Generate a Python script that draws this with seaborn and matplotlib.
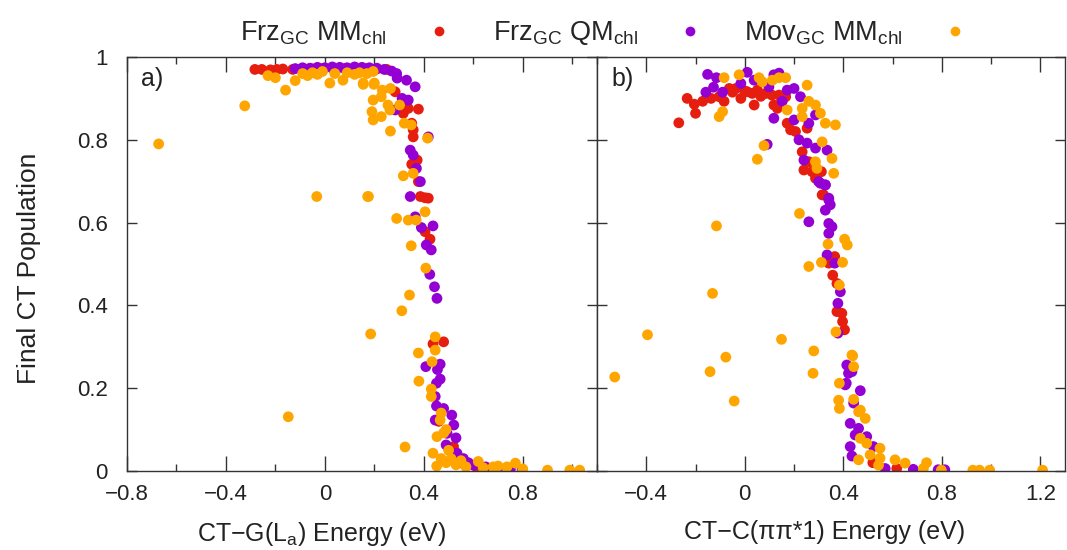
import numpy as np
import pandas as pd
import matplotlib
matplotlib.use("Agg")
import matplotlib.pyplot as plt
from matplotlib.ticker import MultipleLocator, FuncFormatter
from matplotlib.lines import Line2D
import seaborn as sns

# ---------------- data ----------------
series_names = ["Frz$_\\mathrm{GC}$ MM$_\\mathrm{chl}$",
                "Frz$_\\mathrm{GC}$ QM$_\\mathrm{chl}$",
                "Mov$_\\mathrm{GC}$ MM$_\\mathrm{chl}$"]
series_colors = ["#e51e10", "#9400d3", "#ffa500"]

# Panel a) : CT-G(La) energy
a_red_x = [-0.283, -0.255, -0.22, -0.194, -0.17, -0.13, -0.093, -0.05, -0.01, 0.03, 0.08, 0.12, 0.17, 0.21, 0.25,
           0.284, 0.317, 0.337, 0.317, 0.378, 0.351, 0.357, 0.357, 0.373, 0.351, 0.378, 0.386, 0.405, 0.418,
           0.405, 0.425, 0.48, 0.437, 0.52, 0.46, 0.55, 0.62]
a_red_y = [0.970, 0.970, 0.969, 0.970, 0.971, 0.970, 0.972, 0.971, 0.972, 0.973, 0.972, 0.973, 0.972, 0.971, 0.970,
           0.916, 0.892, 0.876, 0.864, 0.874, 0.840, 0.824, 0.807, 0.751, 0.741, 0.699, 0.663, 0.660, 0.659,
           0.578, 0.560, 0.312, 0.307, 0.059, 0.120, 0.020, 0.008]

a_pur_x = [-0.12, -0.09, -0.06, -0.03, 0.0, 0.03, 0.06, 0.09, 0.12, 0.15, 0.18, 0.21, 0.24, 0.27, 0.29,
           0.33, 0.365, 0.292, 0.312, 0.337, 0.284, 0.345, 0.357, 0.37, 0.386, 0.345, 0.365, 0.39, 0.437,
           0.41, 0.43, 0.418, 0.424, 0.443, 0.453, 0.408, 0.466, 0.455, 0.466, 0.451, 0.446, 0.451, 0.48,
           0.513, 0.446, 0.521, 0.494, 0.53, 0.49, 0.534, 0.56, 0.58, 0.60, 0.65, 0.70, 0.75, 0.797]
a_pur_y = [0.972, 0.974, 0.973, 0.975, 0.974, 0.976, 0.975, 0.974, 0.976, 0.975, 0.974, 0.973, 0.970, 0.966, 0.960,
           0.944, 0.928, 0.949, 0.900, 0.896, 0.872, 0.775, 0.763, 0.731, 0.699, 0.663, 0.614, 0.588, 0.592,
           0.546, 0.534, 0.807, 0.475, 0.445, 0.417, 0.252, 0.258, 0.245, 0.222, 0.212, 0.180, 0.157, 0.151,
           0.135, 0.123, 0.111, 0.091, 0.080, 0.063, 0.043, 0.030, 0.020, 0.014, 0.010, 0.008, 0.005, 0.003]

a_org_x = [-0.672, -0.324, -0.159, -0.148, -0.033, 0.176, 0.185,
           -0.23, -0.2, -0.12, -0.09, -0.07, -0.05, -0.03, -0.01, 0.02, 0.04, 0.073, 0.09, 0.12, 0.14,
           0.155, 0.17, 0.195, 0.2, 0.155, 0.198,
           0.232, 0.265, 0.195, 0.228, 0.255, 0.302, 0.19, 0.195, 0.228, 0.263, 0.321, 0.349, 0.265, 0.415,
           0.317, 0.357, 0.173, 0.29, 0.337, 0.369, 0.405, 0.349, 0.408, 0.342, 0.311,
           0.446, 0.446, 0.378, 0.433, 0.38, 0.43, 0.43, 0.466, 0.48, 0.453, 0.49, 0.47, 0.50, 0.324, 0.437,
           0.452, 0.47, 0.49, 0.51, 0.53, 0.55, 0.57, 0.62, 0.64, 0.68, 0.70, 0.736, 0.77, 0.80, 0.90, 0.99, 1.03]
a_org_y = [0.790, 0.882, 0.920, 0.131, 0.663, 0.663, 0.331,
           0.955, 0.950, 0.943, 0.960, 0.955, 0.962, 0.958, 0.965, 0.937, 0.960, 0.944, 0.962, 0.958, 0.962,
           0.937, 0.960, 0.965, 0.937, 0.934, 0.934,
           0.920, 0.924, 0.896, 0.904, 0.884, 0.884, 0.868, 0.848, 0.856, 0.872, 0.840, 0.836, 0.821, 0.804,
           0.713, 0.719, 0.663, 0.610, 0.606, 0.606, 0.626, 0.544, 0.490, 0.425, 0.387,
           0.324, 0.292, 0.285, 0.264, 0.217, 0.198, 0.180, 0.123, 0.092, 0.083, 0.100, 0.140, 0.050, 0.058, 0.043,
           0.012, 0.030, 0.020, 0.030, 0.015, 0.025, 0.010, 0.023, 0.008, 0.010, 0.012, 0.010, 0.019, 0.005,
           0.002, 0.002, 0.002]

# Panel b) : CT-C(pipi*1) energy
b_red_x = [-0.268, -0.234, -0.205, -0.2, -0.171, -0.137, -0.104, -0.084, -0.063, -0.036, -0.016, 0.01, 0.038,
           0.051, 0.085, 0.11, 0.118, 0.139, 0.132, 0.166, 0.172, 0.186, 0.206, 0.233, 0.26, 0.24, 0.273,
           0.311, 0.287, 0.32, 0.253, -0.05, 0.0, 0.03, 0.065, 0.095, 0.15,
           0.314, 0.365, 0.357, 0.374, 0.374, 0.394, 0.397, 0.405, 0.341, 0.52, 0.617]
b_red_y = [0.841, 0.900, 0.886, 0.864, 0.893, 0.900, 0.904, 0.893, 0.924, 0.924, 0.900, 0.916, 0.884,
           0.920, 0.912, 0.908, 0.884, 0.908, 0.876, 0.904, 0.840, 0.824, 0.820, 0.771, 0.747, 0.727, 0.723,
           0.723, 0.707, 0.667, 0.828, 0.915, 0.918, 0.912, 0.905, 0.915, 0.895,
           0.667, 0.518, 0.473, 0.453, 0.385, 0.381, 0.361, 0.341, 0.502, 0.020, 0.006]

b_pur_x = [-0.151, -0.115, -0.127, -0.158, -0.09, -0.016, 0.01, 0.038, 0.098, 0.118, 0.139, 0.172, 0.2,
           0.226, 0.152, 0.118, 0.2, 0.26, 0.287, 0.22, 0.253, 0.287, 0.334, 0.24, 0.3, 0.327, 0.341, 0.091,
           0.307, 0.327, 0.341, 0.347, 0.327, 0.341, 0.354, 0.341, 0.26, 0.334, 0.365, 0.388, 0.378, 0.378,
           0.414, 0.435, 0.412, 0.469, 0.442, 0.428, 0.448, 0.428, 0.435, 0.421, 0.408, 0.462, 0.495, 0.522,
           0.57, 0.684, 0.785, 0.812]
b_pur_y = [0.958, 0.950, 0.927, 0.915, 0.915, 0.936, 0.963, 0.944, 0.928, 0.957, 0.961, 0.920, 0.924,
           0.904, 0.893, 0.852, 0.848, 0.840, 0.860, 0.800, 0.792, 0.780, 0.775, 0.751, 0.699, 0.691, 0.659, 0.789,
           0.695, 0.691, 0.655, 0.643, 0.630, 0.598, 0.590, 0.574, 0.602, 0.522, 0.502, 0.433, 0.405, 0.333,
           0.256, 0.240, 0.212, 0.194, 0.164, 0.115, 0.087, 0.059, 0.036, 0.236, 0.208, 0.103, 0.083, 0.059,
           0.006, 0.004, 0.003, 0.003]

b_org_x = [-0.528, -0.395, -0.115, -0.131, -0.077, -0.141, -0.043, 0.149, 0.078, 0.051,
           -0.084, -0.023, 0.058, 0.071, 0.112, 0.139, 0.166, 0.253, -0.104, -0.09, 0.172, 0.233, 0.233, 0.26,
           0.287, 0.307, 0.327, 0.368, 0.314, 0.287, 0.293, 0.354, 0.361,
           0.222, 0.405, 0.416, 0.338, 0.311, 0.397, 0.26, 0.384, 0.37, 0.28, 0.438, 0.277,
           0.384, 0.381, 0.384, 0.435, 0.442, 0.442, 0.462, 0.489, 0.469, 0.495, 0.509, 0.549, 0.549, 0.543,
           0.61, 0.651, 0.738, 0.725, 0.462, 0.469, 0.798, 0.926, 0.953, 0.994, 1.209]
b_org_y = [0.227, 0.329, 0.592, 0.429, 0.275, 0.240, 0.169, 0.318, 0.786, 0.753,
           0.950, 0.957, 0.950, 0.940, 0.944, 0.950, 0.950, 0.932, 0.856, 0.868, 0.872, 0.876, 0.856, 0.893,
           0.884, 0.864, 0.840, 0.836, 0.795, 0.747, 0.731, 0.755, 0.719,
           0.622, 0.560, 0.546, 0.548, 0.504, 0.504, 0.494, 0.449, 0.336, 0.290, 0.278, 0.236,
           0.212, 0.171, 0.151, 0.280, 0.252, 0.173, 0.143, 0.127, 0.079, 0.067, 0.039, 0.055, 0.031, 0.014,
           0.027, 0.019, 0.020, 0.006, 0.027, 0.147, 0.002, 0.002, 0.002, 0.002, 0.002]

a_xlabel = "CT\u2212G(L$_\\mathrm{a}$) Energy (eV)"
b_xlabel = "CT\u2212C(\u03c0\u03c0*1) Energy (eV)"
ylabel = "Final CT Population"


def make_df(rx, ry, px, py, ox, oy):
    parts = []
    for name, xs, ys in zip(series_names, (rx, px, ox), (ry, py, oy)):
        parts.append(pd.DataFrame({"x": xs, "y": ys, "series": name}))
    return pd.concat(parts, ignore_index=True)


df_a = make_df(a_red_x, a_red_y, a_pur_x, a_pur_y, a_org_x, a_org_y)
df_b = make_df(b_red_x, b_red_y, b_pur_x, b_pur_y, b_org_x, b_org_y)

# ---------------- style ----------------
sns.set_theme(style="ticks")
plt.rcParams["font.family"] = ["Liberation Sans", "DejaVu Sans"]
plt.rcParams["mathtext.fontset"] = "custom"
plt.rcParams["mathtext.rm"] = "Liberation Sans"
plt.rcParams["mathtext.it"] = "Liberation Sans:italic"
plt.rcParams["axes.unicode_minus"] = True

TICK_FS = 16
LAB_FS = 18
LEG_FS = 19.5
W, H = 1067, 550
fig = plt.figure(figsize=(W / 100, H / 100), dpi=100)
palette = dict(zip(series_names, series_colors))

ax_b = (H - 471) / H
ax_h = 414 / H
ax_a = fig.add_axes([127 / W, ax_b, 470 / W, ax_h])
ax_bb = fig.add_axes([597 / W, ax_b, 468 / W, ax_h])

fmt = FuncFormatter(lambda v, p: ("%g" % round(v, 3)).replace("-", "\u2212"))

for ax, df, xlim, xlabel, lx, tag in ((ax_a, df_a, (-0.8, 1.1), a_xlabel, 0.415, "a)"),
                                       (ax_bb, df_b, (-0.6, 1.3), b_xlabel, 0.487, "b)")):
    sns.scatterplot(data=df, x="x", y="y", hue="series", palette=palette,
                    s=60, linewidth=0, alpha=1.0, legend=False, ax=ax)
    ax.set_xlim(*xlim)
    ax.set_ylim(0, 1)
    ax.xaxis.set_major_locator(MultipleLocator(0.4))
    ax.xaxis.set_minor_locator(MultipleLocator(0.2))
    ax.yaxis.set_major_locator(MultipleLocator(0.2))
    ax.xaxis.set_major_formatter(fmt)
    ax.yaxis.set_major_formatter(fmt)
    ax.tick_params(axis="both", which="both", direction="in", top=True, right=True,
                   colors="#333333", labelcolor="#222222", labelsize=TICK_FS, width=1.0)
    ax.tick_params(axis="x", which="major", length=11, pad=9)
    ax.tick_params(axis="x", which="minor", length=5)
    ax.tick_params(axis="y", which="major", length=7, pad=14)
    for sp in ax.spines.values():
        sp.set_color("#333333")
        sp.set_linewidth(1.0)
    ax.set_xlabel(xlabel, fontsize=LAB_FS, color="#222222")
    ax.xaxis.set_label_coords(lx, -0.118)
    ax.set_ylabel("")
    ax.text(0.03, 0.975, tag, transform=ax.transAxes, fontsize=LAB_FS, ha="left", va="top", color="#222222")

ax_a.set_xticks([-0.8, -0.4, 0, 0.4, 0.8])
ax_bb.set_xticks([-0.4, 0, 0.4, 0.8, 1.2])
ax_bb.tick_params(axis="y", labelleft=False)

ax_a.set_ylabel(ylabel, fontsize=LAB_FS + 1, color="#222222")
ax_a.yaxis.set_label_coords(-0.182, 0.49)

handles = [Line2D([0], [0], marker="o", linestyle="", markersize=7,
                  markerfacecolor=c, markeredgewidth=0) for c in series_colors]
fig.legend(handles, series_names, loc="center", bbox_to_anchor=(0.5695, 0.94), ncol=3,
           frameon=False, markerfirst=False, fontsize=LEG_FS, handlelength=1.5,
           handletextpad=1.2, columnspacing=1.22)

fig.savefig("out.png", dpi=100)
